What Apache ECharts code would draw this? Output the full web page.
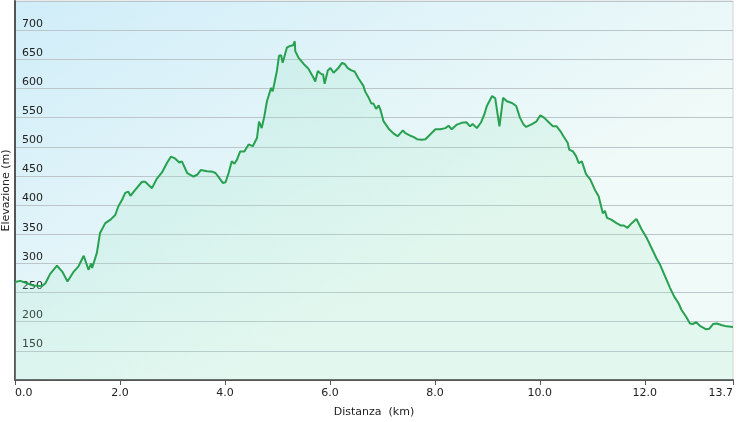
<!DOCTYPE html>
<html>
<head>
<meta charset="utf-8">
<title>Profilo altimetrico</title>
<script src="https://cdn.jsdelivr.net/npm/echarts@6/dist/echarts.min.js"></script>
<style>
  html, body { margin: 0; padding: 0; background: #fff; }
  #chart { width: 737px; height: 422px; }
</style>
</head>
<body>
<div id="chart"></div>
<script>
// distanza (km)
var distanza = [
  0.00, 0.10, 0.23, 0.35, 0.51, 0.58, 0.67, 0.80, 0.90, 1.00,
  1.12, 1.21, 1.31, 1.40, 1.45, 1.47, 1.56, 1.62, 1.72, 1.82,
  1.91, 1.97, 2.04, 2.10, 2.16, 2.20, 2.29, 2.42, 2.48, 2.54,
  2.61, 2.70, 2.80, 2.90, 2.97, 3.05, 3.13, 3.18, 3.28, 3.40,
  3.47, 3.54, 3.66, 3.77, 3.82, 3.88, 3.96, 4.01, 4.07, 4.13,
  4.18, 4.23, 4.29, 4.37, 4.45, 4.53, 4.61, 4.65, 4.70, 4.75,
  4.80, 4.83, 4.88, 4.91, 4.94, 4.99, 5.03, 5.07, 5.10, 5.14,
  5.18, 5.24, 5.30, 5.33, 5.34, 5.40, 5.50, 5.59, 5.69, 5.72,
  5.77, 5.83, 5.87, 5.90, 5.96, 6.01, 6.07, 6.16, 6.23, 6.28,
  6.34, 6.41, 6.47, 6.54, 6.64, 6.67, 6.74, 6.79, 6.83, 6.88,
  6.93, 6.97, 7.02, 7.12, 7.21, 7.29, 7.34, 7.39, 7.43, 7.53,
  7.59, 7.66, 7.75, 7.82, 7.91, 8.01, 8.10, 8.20, 8.26, 8.32,
  8.42, 8.51, 8.60, 8.67, 8.72, 8.80, 8.88, 8.94, 8.99, 9.09,
  9.15, 9.23, 9.30, 9.37, 9.47, 9.55, 9.62, 9.69, 9.74, 9.85,
  9.93, 10.01, 10.08, 10.16, 10.25, 10.32, 10.39, 10.45, 10.53, 10.56,
  10.63, 10.69, 10.74, 10.80, 10.88, 10.96, 11.05, 11.12, 11.20, 11.24,
  11.28, 11.36, 11.46, 11.54, 11.60, 11.67, 11.75, 11.84, 11.94, 12.04,
  12.13, 12.23, 12.29, 12.39, 12.48, 12.56, 12.64, 12.70, 12.79, 12.86,
  12.91, 12.98, 13.05, 13.17, 13.23, 13.30, 13.37, 13.47, 13.56, 13.68
];
// elevazione (m)
var elevazione = [
  268, 270, 266, 262, 261, 266, 282, 296, 286, 269,
  286, 295, 313, 289, 300, 292, 318, 352, 369, 375,
  383, 398, 409, 421, 423, 416, 426, 440, 440, 435,
  429, 445, 456, 473, 483, 480, 473, 475, 455, 449,
  452, 460, 458, 457, 455, 448, 438, 439, 455, 475,
  471, 478, 492, 492, 504, 501, 515, 543, 532, 552,
  578, 575, 601, 595, 608, 630, 656, 657, 644, 657,
  670, 673, 674, 681, 664, 653, 642, 634, 618, 612,
  630, 625, 624, 608, 631, 635, 627, 635, 644, 642,
  635, 631, 629, 618, 604, 595, 584, 574, 574, 565,
  571, 561, 544, 531, 523, 518, 523, 528, 524, 519,
  517, 513, 512, 513, 521, 530, 530, 532, 536, 530,
  538, 541, 542, 535, 539, 532, 542, 555, 570, 587,
  583, 535, 584, 578, 575, 570, 550, 538, 534, 539,
  543, 554, 550, 543, 535, 535, 527, 518, 507, 495,
  492, 484, 472, 475, 453, 444, 426, 415, 386, 390,
  378, 375, 369, 365, 365, 361, 369, 376, 358, 343,
  326, 307, 298, 277, 258, 243, 232, 220, 208, 197,
  196, 199, 193, 187, 188, 196, 197, 194, 192, 191
];

var xMin = 0, xMax = 13.68, xStep = 2;
var yMin = 100, yMax = 750, yStep = 50;

var punti = distanza.map(function (d, i) { return [d, elevazione[i]]; });

var myChart = echarts.init(document.getElementById('chart'));
var option = {
  animation: false,
  backgroundColor: '#fff',
  textStyle: { fontFamily: 'DejaVu Sans, Verdana, sans-serif' },
  grid: {
    left: 15,
    right: 4,
    top: 1,
    bottom: 42,
    outerBoundsMode: 'none',
    containLabel: false,
    show: true,
    borderWidth: 1,
    borderColor: '#cfd6d9',
    backgroundColor: new echarts.graphic.LinearGradient(0, 0, 0.3, 1, [
      { offset: 0, color: '#d0edf9' },
      { offset: 1, color: '#f0faf8' }
    ])
  },
  xAxis: {
    type: 'value',
    min: xMin,
    max: xMax,
    interval: xStep,
    name: 'Distanza  (km)',
    nameLocation: 'middle',
    nameGap: 27,
    nameMoveOverlap: false,
    nameTextStyle: { fontSize: 11, color: '#222' },
    axisLine: { show: true, lineStyle: { color: '#555', width: 2 } },
    axisTick: { show: true, length: 5, lineStyle: { color: '#555' } },
    splitLine: { show: false },
    axisLabel: {
      fontSize: 11,
      color: '#222',
      margin: 8,
      showMinLabel: true,
      showMaxLabel: true,
      alignMinLabel: 'left',
      alignMaxLabel: 'right',
      formatter: function (v) { return v.toFixed(1); }
    }
  },
  yAxis: {
    type: 'value',
    min: yMin,
    max: yMax,
    interval: yStep,
    name: 'Elevazione (m)',
    nameLocation: 'middle',
    nameGap: 3,
    nameMoveOverlap: false,
    nameTextStyle: { fontSize: 11, color: '#222' },
    axisLine: { show: true, lineStyle: { color: '#555', width: 2 } },
    axisTick: { show: false },
    splitLine: { show: true, lineStyle: { color: '#bcc6ca', width: 1 } },
    axisLabel: {
      inside: true,
      margin: 7,
      fontSize: 11,
      color: '#222',
      verticalAlign: 'bottom',
      padding: [0, 0, 1, 0],
      showMinLabel: false,
      showMaxLabel: false
    }
  },
  series: [
    {
      type: 'line',
      data: punti,
      symbol: 'none',
      smooth: false,
      lineStyle: { color: '#27a150', width: 2 },
      areaStyle: {
        color: new echarts.graphic.LinearGradient(0, 0, 0, 1, [
          { offset: 0, color: 'rgba(140,225,180,0.25)' },
          { offset: 1, color: 'rgba(170,235,200,0.28)' }
        ])
      }
    }
  ]
};
myChart.setOption(option);
</script>
</body>
</html>
